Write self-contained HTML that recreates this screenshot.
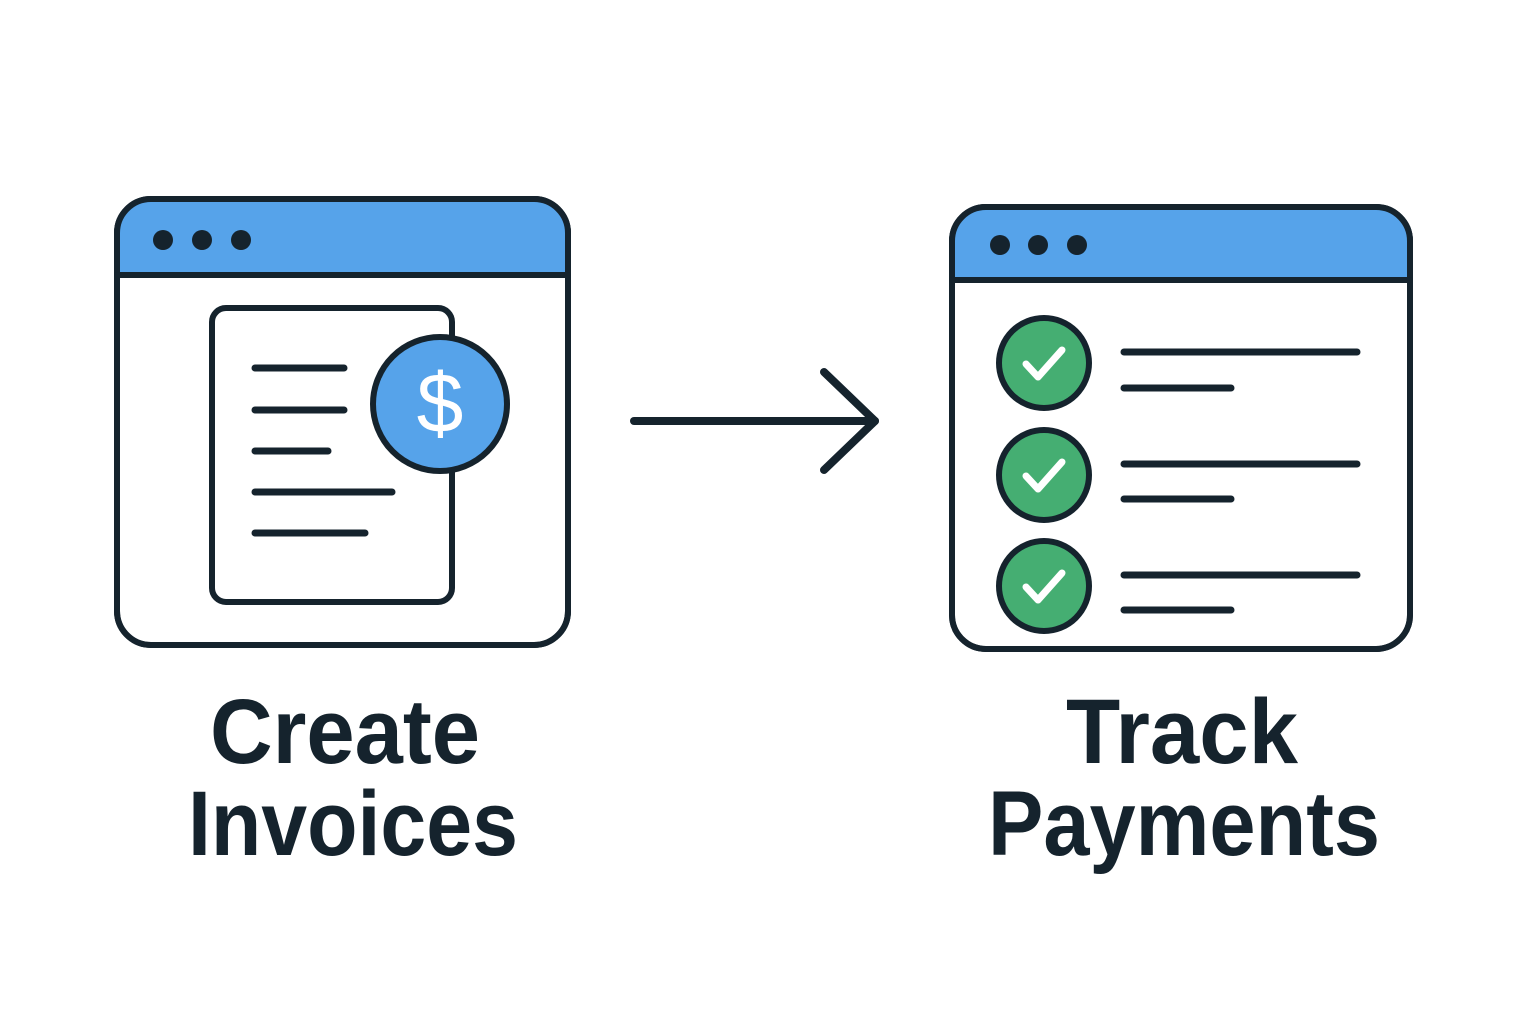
<!DOCTYPE html>
<html><head><meta charset="utf-8"><style>html,body{margin:0;padding:0;background:#fff}svg{display:block}</style></head>
<body>
<svg width="1536" height="1024" viewBox="0 0 1536 1024" xmlns="http://www.w3.org/2000/svg">
<defs>
<clipPath id="c1"><rect x="117" y="199" width="451" height="446" rx="34"/></clipPath>
<clipPath id="c2"><rect x="952" y="207" width="458" height="442" rx="34"/></clipPath>
</defs>
<g stroke="#15232d" stroke-linecap="round" fill="none">
<rect x="117" y="199" width="451" height="446" rx="34" fill="#fff" stroke-width="6"/>
<rect x="117" y="199" width="451" height="76" fill="#56a3ea" stroke="none" clip-path="url(#c1)"/>
<rect x="117" y="199" width="451" height="446" rx="34" stroke-width="6"/>
<line x1="117" y1="275" x2="568" y2="275" stroke-width="6"/>
<rect x="212" y="308" width="240" height="294" rx="14" fill="#fff" stroke-width="6"/>
<g stroke-width="7">
<line x1="255" y1="368" x2="344" y2="368"/>
<line x1="255" y1="410" x2="344" y2="410"/>
<line x1="255" y1="451" x2="328" y2="451"/>
<line x1="255" y1="492" x2="392" y2="492"/>
<line x1="255" y1="533" x2="365" y2="533"/>
</g>
<circle cx="440" cy="404" r="67" fill="#56a3ea" stroke-width="6"/>
<g stroke-width="8" stroke-linejoin="round">
<line x1="634" y1="421" x2="875" y2="421"/>
<polyline points="824,372 875,421 824,470"/>
</g>
<rect x="952" y="207" width="458" height="442" rx="34" fill="#fff" stroke-width="6"/>
<rect x="952" y="207" width="458" height="73" fill="#56a3ea" stroke="none" clip-path="url(#c2)"/>
<rect x="952" y="207" width="458" height="442" rx="34" stroke-width="6"/>
<line x1="952" y1="280" x2="1410" y2="280" stroke-width="6"/>
<g stroke-width="7">
<line x1="1124" y1="352" x2="1357" y2="352"/>
<line x1="1124" y1="388" x2="1231" y2="388"/>
<line x1="1124" y1="464" x2="1357" y2="464"/>
<line x1="1124" y1="499" x2="1231" y2="499"/>
<line x1="1124" y1="575" x2="1357" y2="575"/>
<line x1="1124" y1="610" x2="1231" y2="610"/>
</g>
<g stroke-width="6" fill="#45ae72">
<circle cx="1044" cy="363" r="45"/>
<circle cx="1044" cy="475" r="45"/>
<circle cx="1044" cy="586" r="45"/>
</g>
<g stroke="#fff" stroke-width="7" stroke-linejoin="round">
<polyline points="1026,364 1038,377 1062,350"/>
<polyline points="1026,476 1038,489 1062,462"/>
<polyline points="1026,587 1038,600 1062,573"/>
</g>
</g>
<g fill="#15232d">
<circle cx="163" cy="240" r="10"/><circle cx="202" cy="240" r="10"/><circle cx="241" cy="240" r="10"/>
<circle cx="1000" cy="245" r="10"/><circle cx="1038" cy="245" r="10"/><circle cx="1077" cy="245" r="10"/>
</g>
<text x="440" y="432" text-anchor="middle" font-family="Liberation Sans, sans-serif" font-size="84" fill="#fff">$</text>
<g font-family="Liberation Sans, sans-serif" font-weight="bold" fill="#15232d" font-size="92">
<text x="210" y="763" textLength="270" lengthAdjust="spacingAndGlyphs">Create</text>
<text x="188" y="855" textLength="330" lengthAdjust="spacingAndGlyphs">Invoices</text>
<text x="1066" y="763" textLength="232" lengthAdjust="spacingAndGlyphs">Track</text>
<text x="988" y="855" textLength="392" lengthAdjust="spacingAndGlyphs">Payments</text>
</g>
</svg>
</body></html>
